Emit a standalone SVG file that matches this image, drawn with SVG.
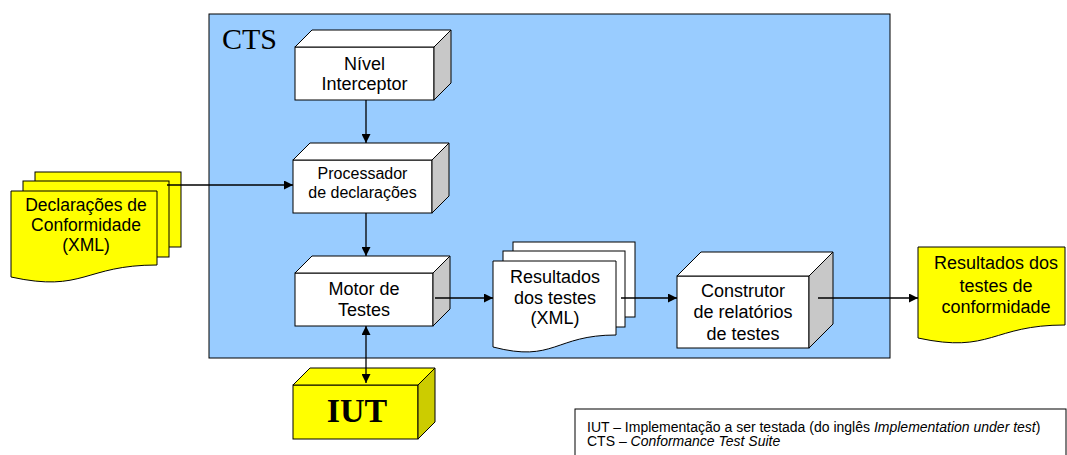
<svg xmlns="http://www.w3.org/2000/svg" width="1067" height="455" viewBox="0 0 1067 455">
<style>
.face{fill:#FFFFFF;stroke:#000;stroke-width:1}
.side{fill:#C8C8C8;stroke:#000;stroke-width:1}
.yface{fill:#FFFF00;stroke:#000;stroke-width:1}
.yside{fill:#CCCC00;stroke:#000;stroke-width:1}
.doc{fill:#FFFFFF;stroke:#000;stroke-width:1}
.ydoc{fill:#FFFF00;stroke:#000;stroke-width:1}
.t{font-family:"Liberation Sans",Arial,sans-serif;font-size:18px;fill:#000;text-anchor:middle}
.con{stroke:#000;stroke-width:1.3;fill:none}
.leg{font-family:"Liberation Sans",Arial,sans-serif;font-size:14px;fill:#000}
</style>
<defs>
<marker id="ah" viewBox="0 0 10 10" refX="10" refY="5" markerUnits="userSpaceOnUse" markerWidth="10" markerHeight="9" orient="auto-start-reverse">
<path d="M0,0 L10,5 L0,10 z" fill="#000"/>
</marker>
</defs>
<rect width="1067" height="455" fill="#FFFFFF"/>

<g id="cts">
<rect x="209" y="14" width="681" height="344" fill="#99CCFF" stroke="#000" stroke-width="1"/>
<text x="222" y="49" font-family="'Liberation Serif','Times New Roman',serif" font-size="30">CTS</text>
</g>

<g id="declaracoes">
<rect class="ydoc" x="35" y="172" width="146" height="75"/>
<rect class="ydoc" x="23" y="181" width="146" height="76"/>
<path class="ydoc" d="M11,191 H157 V265 C84,265 84,293 11,277 Z"/>
<text class="t" style="font-size:17.5px" x="86" y="211">Declarações de</text>
<text class="t" style="font-size:17.5px" x="86" y="231">Conformidade</text>
<text class="t" style="font-size:17.5px" x="86" y="251">(XML)</text>
</g>

<g id="nivel">
<rect class="face" x="295" y="47" width="139" height="53"/>
<polygon class="face" points="295,47 312,30 451,30 434,47"/>
<polygon class="side" points="434,47 451,30 451,83 434,100"/>
<text class="t" x="364.5" y="70">Nível</text>
<text class="t" x="364.5" y="90">Interceptor</text>
</g>

<g id="processador">
<rect class="face" x="293" y="160" width="139" height="53"/>
<polygon class="face" points="293,160 310,143 449,143 432,160"/>
<polygon class="side" points="432,160 449,143 449,196 432,213"/>
<text class="t" style="font-size:16px" x="362.5" y="179">Processador</text>
<text class="t" style="font-size:16px" x="362.5" y="198">de declarações</text>
</g>

<g id="motor">
<rect class="face" x="295" y="273" width="138" height="53"/>
<polygon class="face" points="295,273 312,256 450,256 433,273"/>
<polygon class="side" points="433,273 450,256 450,309 433,326"/>
<text class="t" x="364" y="295">Motor de</text>
<text class="t" x="364" y="316">Testes</text>
</g>

<g id="resultados-testes">
<rect class="doc" x="513" y="242" width="122" height="75"/>
<rect class="doc" x="503" y="251" width="122" height="76"/>
<path class="doc" d="M493,261 H616 V335 C554.5,335 554.5,363 493,347 Z"/>
<text class="t" x="555" y="283">Resultados</text>
<text class="t" x="555" y="304">dos testes</text>
<text class="t" x="555" y="324">(XML)</text>
</g>

<g id="construtor">
<rect class="face" x="677" y="276" width="132" height="72"/>
<polygon class="face" points="677,276 701,252 833,252 809,276"/>
<polygon class="side" points="809,276 833,252 833,324 809,348"/>
<text class="t" x="743" y="297">Construtor</text>
<text class="t" x="743" y="318">de relatórios</text>
<text class="t" x="743" y="340">de testes</text>
</g>

<g id="resultados-conformidade">
<path class="ydoc" d="M918,247 H1065 V325 C991.5,325 991.5,354 918,338 Z"/>
<text class="t" x="996" y="269">Resultados dos</text>
<text class="t" x="996" y="292">testes de</text>
<text class="t" x="996" y="313">conformidade</text>
</g>

<g id="iut">
<rect class="yface" x="293" y="385" width="125" height="54"/>
<polygon class="yface" points="293,385 310,368 435,368 418,385"/>
<polygon class="yside" points="418,385 435,368 435,422 418,439"/>
<text x="357" y="422" font-family="'Liberation Serif','Times New Roman',serif" font-size="34" font-weight="bold" text-anchor="middle">IUT</text>
</g>

<g id="connectors">
<line class="con" x1="366" y1="100" x2="366" y2="143" marker-end="url(#ah)"/>
<line class="con" x1="167" y1="185" x2="293" y2="185" marker-end="url(#ah)"/>
<line class="con" x1="366" y1="213" x2="366" y2="256" marker-end="url(#ah)"/>
<line class="con" x1="366" y1="326" x2="366" y2="383" marker-start="url(#ah)" marker-end="url(#ah)"/>
<line class="con" x1="435" y1="298" x2="493" y2="298" marker-end="url(#ah)"/>
<line class="con" x1="621" y1="298" x2="677" y2="298" marker-end="url(#ah)"/>
<line class="con" x1="818" y1="298" x2="918" y2="298" marker-end="url(#ah)"/>
</g>

<g id="legenda">
<rect x="575" y="409" width="491" height="60" fill="#FFFFFF" stroke="#000" stroke-width="1"/>
<text class="leg" x="587" y="432">IUT – Implementação a ser testada (do inglês <tspan font-style="italic">Implementation under test</tspan>)</text>
<text class="leg" x="587" y="446">CTS – <tspan font-style="italic">Conformance Test Suite</tspan></text>
</g>
</svg>
